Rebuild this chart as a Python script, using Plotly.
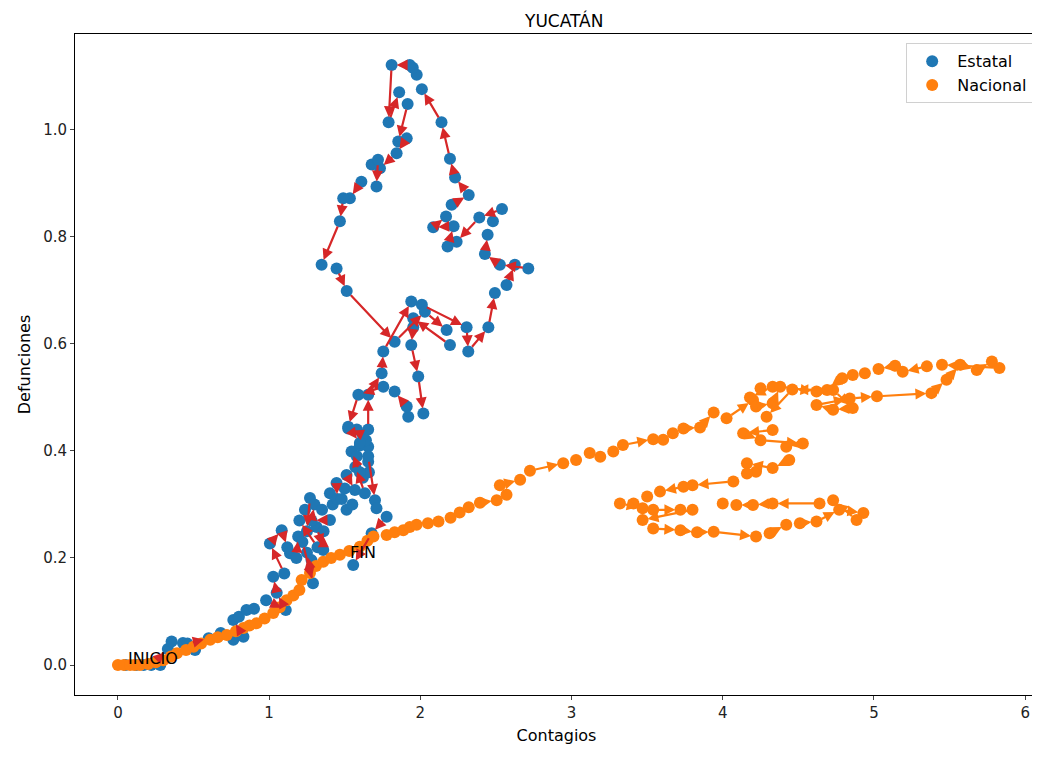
import plotly.graph_objects as go

# Trayectoria estatal (Yucatán)
est_x = [0.05, 0.12, 0.17, 0.22, 0.28, 0.24, 0.33, 0.355, 0.43, 0.51, 0.46, 0.6, 0.68, 0.763, 0.83,
         0.763, 0.80, 0.85, 0.9, 0.98, 1.11, 1.05, 1.027, 1.10, 1.005, 1.083, 1.12, 1.138, 1.18,
         1.192, 1.22, 1.29, 1.25, 1.28, 1.32, 1.2, 1.237, 1.27, 1.25, 1.314, 1.358, 1.36, 1.402,
         1.28, 1.3, 1.35, 1.42, 1.402, 1.446, 1.45, 1.512, 1.55, 1.48, 1.5, 1.512, 1.567, 1.633,
         1.57, 1.62, 1.66, 1.60, 1.545, 1.6, 1.58, 1.655, 1.655, 1.64, 1.62, 1.523, 1.58, 1.655,
         1.655, 1.744, 1.755, 1.94,
         2.01, 2.306, 2.317, 2.45, 2.493, 2.57, 2.625, 2.714, 2.526, 2.427, 2.445, 2.48, 2.54,
         2.39, 2.24, 2.18, 2.22, 2.085, 2.17, 2.207, 2.32, 2.23, 2.196, 2.14, 2.01, 1.976, 1.95,
         1.93, 1.81, 1.79, 1.86, 1.916, 1.854, 1.91, 1.843, 1.733, 1.678, 1.72, 1.71, 1.61,
         1.534, 1.49, 1.468, 1.347, 1.446, 1.513, 1.83, 2.03, 2.174, 2.196, 1.953, 1.953, 1.94,
         1.986, 2.02, 1.92, 1.91, 1.83, 1.755, 1.59, 1.523, 1.60, 1.655, 1.70, 1.71, 1.777,
         1.678, 1.556]
est_y = [0.0, 0.0, 0.0, 0.0, 0.0, 0.005, 0.03, 0.044, 0.041, 0.028, 0.04, 0.05, 0.06, 0.047, 0.053,
         0.084, 0.09, 0.103, 0.105, 0.121, 0.103, 0.135, 0.165, 0.171, 0.227, 0.252, 0.22, 0.209,
         0.2, 0.24, 0.23, 0.153, 0.21, 0.196, 0.22, 0.27, 0.29, 0.312, 0.25, 0.258, 0.215, 0.25,
         0.271, 0.27, 0.3, 0.29, 0.3, 0.321, 0.34, 0.31, 0.29, 0.3, 0.31, 0.33, 0.355, 0.327,
         0.321, 0.37, 0.35, 0.36, 0.36, 0.399, 0.41, 0.39, 0.38, 0.408, 0.42, 0.43, 0.442, 0.44,
         0.44, 0.505, 0.545, 0.586, 0.679,
         0.673, 0.631, 0.586, 0.631, 0.695, 0.71, 0.748, 0.741, 0.748, 0.768, 0.804, 0.829,
         0.852, 0.836, 0.791, 0.782, 0.82, 0.818, 0.838, 0.86, 0.878, 0.911, 0.946, 1.014, 1.076,
         1.103, 1.116, 1.121, 1.121, 1.014, 1.07, 1.048, 0.978, 0.984, 0.956, 0.928, 0.935, 0.944,
         0.894, 0.903, 0.872, 0.872, 0.829, 0.748, 0.741, 0.699, 0.604, 0.66, 0.626, 0.598, 0.648,
         0.631, 0.598, 0.539, 0.47, 0.464, 0.483, 0.511, 0.52, 0.505, 0.445, 0.415, 0.39, 0.308,
         0.293, 0.277, 0.246, 0.187]

# Trayectoria nacional
nac_x = [0.0, 0.04, 0.08, 0.11, 0.145, 0.2, 0.25, 0.30, 0.35, 0.39, 0.45, 0.50, 0.55, 0.61, 0.66,
         0.72, 0.78, 0.83, 0.87, 0.917, 0.97, 1.027, 1.07, 1.115, 1.16, 1.20, 1.215, 1.27, 1.31,
         1.358, 1.41, 1.468, 1.53, 1.60, 1.65, 1.69, 1.777, 1.83, 1.887, 1.93, 1.975, 2.05, 2.12,
         2.2, 2.26, 2.32, 2.394, 2.505, 2.57, 2.526, 2.66, 2.725, 2.945, 3.03, 3.12, 3.19, 3.276,
         3.34, 3.54, 3.606, 3.67, 3.74, 3.85, 3.94, 4.025, 4.20, 4.25, 4.33, 4.18, 4.22, 4.33,
         4.38, 4.62, 4.73, 4.86, 4.73, 4.62, 4.84, 5.02, 5.38, 5.48, 5.57, 5.68, 5.78, 5.83, 5.45,
         5.35, 5.19, 5.14, 5.03, 4.94, 4.86, 4.79, 4.69, 4.46, 4.29, 4.33, 4.135, 4.25, 4.53,
         4.42, 4.44, 4.33, 4.16, 4.22, 4.16, 4.07, 3.80, 3.74, 3.585, 3.50, 3.41, 3.32, 3.47,
         3.54, 3.72, 3.80, 3.47, 3.54, 3.72, 3.83, 3.94, 4.22, 4.31, 4.42, 4.51, 4.62, 4.77, 4.93,
         4.885, 4.73, 4.64, 4.33, 4.20, 4.09, 4.0]
nac_y = [0.0, 0.0, 0.0, 0.0, 0.0, 0.002, 0.005, 0.009, 0.016, 0.022, 0.028, 0.034, 0.04, 0.047,
         0.052, 0.056, 0.063, 0.069, 0.074, 0.078, 0.087, 0.097, 0.108, 0.121, 0.13, 0.14, 0.159,
         0.172, 0.185, 0.193, 0.2, 0.206, 0.213, 0.221, 0.232, 0.24, 0.243, 0.248, 0.252, 0.258,
         0.262, 0.265, 0.268, 0.275, 0.285, 0.295, 0.303, 0.308, 0.318, 0.336, 0.346, 0.363, 0.377,
         0.383, 0.396, 0.389, 0.399, 0.411, 0.422, 0.421, 0.433, 0.442, 0.444, 0.472, 0.461, 0.495,
         0.517, 0.52, 0.50, 0.483, 0.489, 0.52, 0.511, 0.514, 0.48, 0.477, 0.486, 0.498, 0.502,
         0.508, 0.533, 0.561, 0.551, 0.567, 0.555, 0.561, 0.558, 0.548, 0.559, 0.553, 0.545,
         0.542, 0.536, 0.514, 0.515, 0.464, 0.439, 0.433, 0.42, 0.414, 0.408, 0.383, 0.368, 0.377,
         0.361, 0.358, 0.343, 0.336, 0.333, 0.324, 0.315, 0.302, 0.302, 0.293, 0.29, 0.29, 0.29,
         0.271, 0.255, 0.252, 0.248, 0.249, 0.24, 0.246, 0.262, 0.265, 0.268, 0.29, 0.284, 0.271,
         0.308, 0.302, 0.302, 0.299, 0.299, 0.302]

x_range = [-0.284, 6.085]
y_range = [-0.056, 1.179]

fig = go.Figure()
fig.add_trace(go.Scatter(x=est_x, y=est_y, mode="markers", name="Estatal",
                         marker=dict(color="#1f77b4", size=12)))
fig.add_trace(go.Scatter(x=nac_x, y=nac_y, mode="markers", name="Nacional",
                         marker=dict(color="#ff7f0e", size=12)))

# px per data unit, to skip arrows between points that overlap
sx = 963 / (x_range[1] - x_range[0])
sy = 661 / (y_range[1] - y_range[0])

arrows = []
for xs, ys, col in [(est_x, est_y, "#d62728"), (nac_x, nac_y, "#ff7f0e")]:
    for i in range(len(xs) - 1):
        d = ((xs[i + 1] - xs[i]) * sx) ** 2 + ((ys[i + 1] - ys[i]) * sy) ** 2
        if d ** 0.5 < 16:
            continue
        arrows.append(dict(
            x=xs[i + 1], y=ys[i + 1], ax=xs[i], ay=ys[i],
            xref="x", yref="y", axref="x", ayref="y",
            showarrow=True, arrowhead=2, arrowsize=1, arrowwidth=2.2,
            arrowcolor=col, standoff=5, startstandoff=4, text="",
        ))

arrows.append(dict(x=est_x[0], y=est_y[0], xref="x", yref="y", text="INICIO",
                   showarrow=False, xanchor="left", yanchor="bottom", yshift=-5,
                   font=dict(size=16, color="#000")))
arrows.append(dict(x=est_x[-1], y=est_y[-1], xref="x", yref="y", text="FIN",
                   showarrow=False, xanchor="left", yanchor="bottom", xshift=-5, yshift=1,
                   font=dict(size=16, color="#000")))

# page body has an 8px margin, so the figure is a bit smaller than the window
fig.update_layout(
    width=1032, height=749,
    margin=dict(l=67, r=2, t=26, b=62),
    plot_bgcolor="white", paper_bgcolor="white",
    font=dict(family="DejaVu Sans", size=16, color="#000"),
    title=dict(text="YUCATÁN", x=0.539, xanchor="center", y=0.983, yanchor="middle",
               font=dict(size=17)),
    annotations=arrows,
    showlegend=True,
    legend=dict(x=0.995, y=0.986, xanchor="right", yanchor="top",
                bgcolor="white", bordercolor="#d0d0d0", borderwidth=1,
                font=dict(size=16), itemwidth=40),
)
fig.update_xaxes(range=x_range, title_text="Contagios", tickvals=[0, 1, 2, 3, 4, 5, 6],
                 showgrid=False, zeroline=False, showline=True, mirror=True,
                 linecolor="black", linewidth=1, ticks="outside", ticklen=4,
                 tickfont=dict(size=15, color="#222"),
                 title_font=dict(size=16), title_standoff=8)
fig.update_yaxes(range=y_range, title_text="Defunciones",
                 tickvals=[0.0, 0.2, 0.4, 0.6, 0.8, 1.0], tickformat=".1f",
                 showgrid=False, zeroline=False, showline=True, mirror=True,
                 linecolor="black", linewidth=1, ticks="outside", ticklen=4,
                 tickfont=dict(size=15, color="#222"),
                 title_font=dict(size=16), title_standoff=8)

fig.write_html("out.html")
